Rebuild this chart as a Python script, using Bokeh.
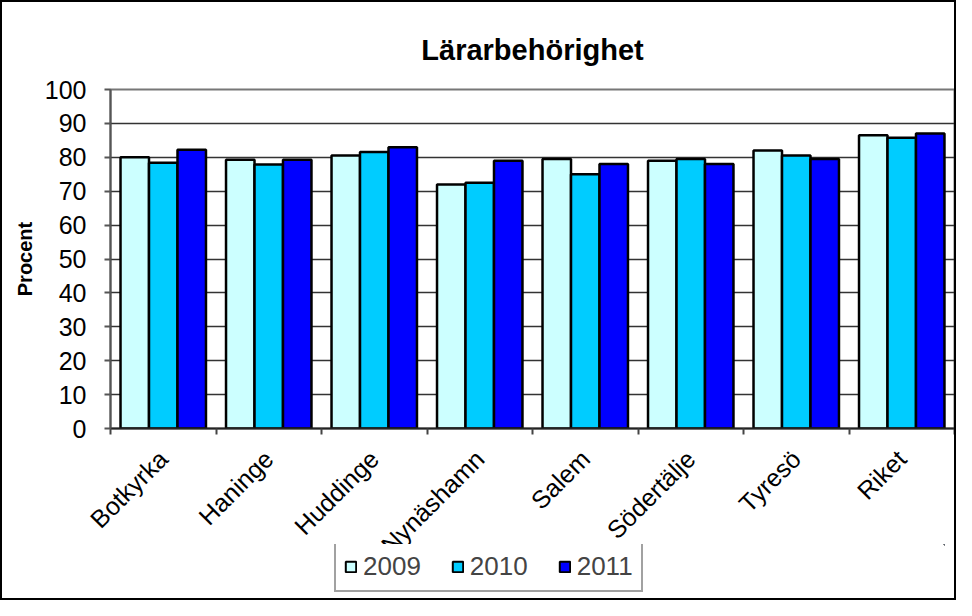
import math
from bokeh.plotting import figure
from bokeh.layouts import column
from bokeh.models import (Range1d, FixedTicker, Legend, LegendItem, ColumnDataSource)
from bokeh.embed import file_html
from bokeh.resources import INLINE

categories = ["Botkyrka", "Haninge", "Huddinge", "Nynäshamn", "Salem", "Södertälje", "Tyresö", "Riket"]
years = ["2009", "2010", "2011"]
v2009 = [80.0, 79.3, 80.5, 72.0, 79.5, 79.0, 82.0, 86.5]
v2010 = [78.4, 77.9, 81.6, 72.5, 75.0, 79.5, 80.5, 85.8]
v2011 = [82.2, 79.3, 83.0, 79.0, 78.0, 78.0, 79.5, 87.0]
colors = ["#CCFFFF", "#00CCFF", "#0000FF"]

p = figure(width=956, height=600, output_backend="svg", toolbar_location=None,
           x_range=Range1d(0, len(categories)), y_range=Range1d(0, 100),
           min_border_left=108, min_border_right=4, min_border_top=87, min_border_bottom=174)
p.styles = {"border": "2px solid black", "box-sizing": "border-box"}

p.title.text = "Lärarbehörighet"
p.title.align = "center"
p.title.text_font = "Liberation Sans"
p.title.text_font_size = "29px"
p.title.text_font_style = "bold"
p.title.text_color = "black"
p.title.offset = 0
p.title.standoff = 48

bw = 0.27
offsets = [-bw, 0.0, bw]
for k, (yr, vals, col) in enumerate(zip(years, [v2009, v2010, v2011], colors)):
    src = ColumnDataSource(dict(x=[i + 0.5 + offsets[k] for i in range(len(categories))], top=vals))
    p.vbar(x="x", top="top", bottom=0, width=bw, source=src,
           fill_color=col, line_color="black", line_width=2.5)

# axes
xa = p.xaxis[0]
xa.ticker = FixedTicker(ticks=[i + 0.5 for i in range(len(categories))],
                        minor_ticks=list(range(len(categories) + 1)))
xa.major_label_overrides = {i + 0.5: c for i, c in enumerate(categories)}
xa.major_tick_out = 0
xa.major_tick_in = 0
xa.minor_tick_out = 6
xa.minor_tick_in = 0
xa.minor_tick_line_color = "#444444"
xa.minor_tick_line_width = 2
xa.axis_line_color = "#222222"
xa.axis_line_width = 2
xa.major_label_orientation = math.pi / 4
xa.major_label_text_font = "Liberation Sans"
xa.major_label_text_font_size = "25px"
xa.major_label_text_color = "black"
xa.major_label_standoff = 20

ya = p.yaxis[0]
ya.ticker = FixedTicker(ticks=list(range(0, 101, 10)))
ya.axis_label = "Procent"
ya.axis_label_text_font = "Liberation Sans"
ya.axis_label_text_font_size = "20px"
ya.axis_label_text_font_style = "bold"
ya.axis_label_text_color = "black"
ya.axis_label_standoff = 6
ya.major_label_text_font = "Liberation Sans"
ya.major_label_text_font_size = "25px"
ya.major_label_text_color = "black"
ya.major_tick_out = 6
ya.major_tick_in = 0
ya.minor_tick_line_color = None
ya.major_tick_line_color = "#555555"
ya.major_tick_line_width = 2
ya.axis_line_color = "#555555"
ya.axis_line_width = 2
ya.major_label_standoff = 18

p.xgrid.grid_line_color = None
p.ygrid.grid_line_color = "#333333"
p.ygrid.grid_line_width = 1.5
p.outline_line_color = "#777777"
p.outline_line_width = 2

# legend panel, overlapping the bottom of the chart
p2 = figure(width=940, height=54, output_backend="svg", toolbar_location=None,
            x_range=Range1d(0, 1), y_range=Range1d(0, 1),
            x_axis_location=None, y_axis_location=None,
            min_border_left=0, min_border_right=0, min_border_top=0, min_border_bottom=0)
p2.styles = {"margin-top": "-56px", "margin-left": "8px"}
p2.border_fill_color = None
p2.background_fill_color = None
p2.outline_line_color = None
p2.xgrid.grid_line_color = None
p2.ygrid.grid_line_color = None
legend_items = []
for yr, col in zip(years, colors):
    r = p2.vbar(x=[5], top=[5], bottom=4, width=0.1, fill_color=col,
                line_color="black", line_width=2)
    legend_items.append(LegendItem(label=yr, renderers=[r]))

legend = Legend(items=legend_items, orientation="horizontal", location=(218, 6),
                label_text_font="Liberation Sans", label_text_font_size="26px",
                glyph_width=13, glyph_height=13, label_standoff=6, spacing=30,
                padding=8, margin=0,
                background_fill_color="white", background_fill_alpha=1.0,
                border_line_color="#444444", border_line_width=2)
p2.add_layout(legend, "center")

open("out.html", "w").write(file_html(column(p, p2, spacing=0), INLINE))
